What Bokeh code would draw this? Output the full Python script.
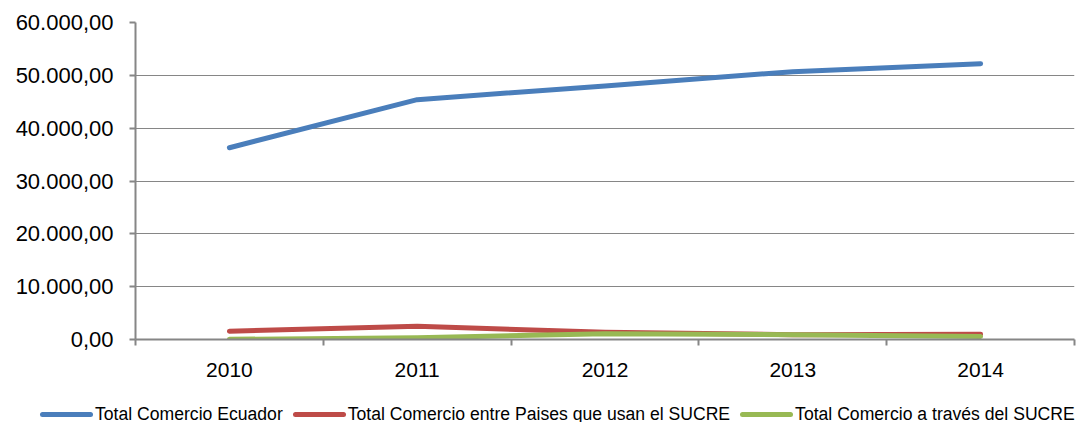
from bokeh.plotting import figure
from bokeh.models import FixedTicker, Range1d, Div
from bokeh.layouts import column
from bokeh.embed import file_html
from bokeh.resources import INLINE

years = ["2010", "2011", "2012", "2013", "2014"]
ecuador = [36300, 45400, 48000, 50700, 52200]
paises_sucre = [1570, 2500, 1380, 900, 1000]
via_sucre = [30, 320, 1080, 900, 570]
y_ticks = [0, 10000, 20000, 30000, 40000, 50000, 60000]
y_labels = ["0,00", "10.000,00", "20.000,00", "30.000,00", "40.000,00", "50.000,00", "60.000,00"]
series_names = ["Total Comercio Ecuador", "Total Comercio entre Paises que usan el SUCRE",
                "Total Comercio a través del SUCRE"]
colors = ["#4A7EBB", "#BE4B48", "#98B954"]

FONT = "Liberation Sans"
GRAY = "#868686"

xs = [i + 0.5 for i in range(len(years))]

p = figure(width=1079, height=395, output_backend="svg", toolbar_location=None,
           x_range=Range1d(0, len(years)), y_range=Range1d(0, 60000),
           min_border_left=135, min_border_right=5, min_border_top=22, min_border_bottom=56)
p.outline_line_color = None
p.background_fill_color = "white"

for vals, c in zip([ecuador, paises_sucre, via_sucre], colors):
    p.line(xs, vals, line_color=c, line_width=5, line_cap="round", line_join="round")

# x axis
p.xaxis.ticker = FixedTicker(ticks=xs, minor_ticks=list(range(len(years) + 1)))
p.xaxis.major_label_overrides = {x: y for x, y in zip(xs, years)}
p.xaxis.major_tick_line_color = None
p.xaxis.minor_tick_line_color = GRAY
p.xaxis.minor_tick_line_width = 2
p.xaxis.minor_tick_in = 0
p.xaxis.minor_tick_out = 6
p.xaxis.axis_line_color = GRAY
p.xaxis.axis_line_width = 2
p.xaxis.major_label_text_font = FONT
p.xaxis.major_label_text_font_size = "21px"
p.xaxis.major_label_text_color = "#000000"
p.xaxis.major_label_standoff = 17

# y axis
p.yaxis.ticker = FixedTicker(ticks=y_ticks)
p.yaxis.major_label_overrides = {t: l for t, l in zip(y_ticks, y_labels)}
p.yaxis.minor_tick_line_color = None
p.yaxis.major_tick_line_color = GRAY
p.yaxis.major_tick_line_width = 2
p.yaxis.major_tick_in = 0
p.yaxis.major_tick_out = 6
p.yaxis.axis_line_color = GRAY
p.yaxis.axis_line_width = 2
p.yaxis.major_label_text_font = FONT
p.yaxis.major_label_text_font_size = "22px"
p.yaxis.major_label_text_color = "#000000"
p.yaxis.major_label_standoff = 16

p.xgrid.grid_line_color = None
p.ygrid.ticker = FixedTicker(ticks=y_ticks)
p.ygrid.grid_line_color = GRAY
p.ygrid.grid_line_width = 1

# legend strip below the chart
items_html = "".join(
    f'<span style="display:inline-block;flex:none;width:53px;height:5px;border-radius:3px;'
    f'background:{c};margin-left:{0 if i == 0 else 10}px;margin-right:2px;"></span>'
    f'<span style="white-space:nowrap;flex:none;">{n}</span>'
    for i, (n, c) in enumerate(zip(series_names, colors))
)
legend_div = Div(
    text=f'<div style="display:flex;align-items:center;height:27px;padding-left:40px;'
         f'padding-top:12px;box-sizing:border-box;font-family:\'{FONT}\';font-size:17.6px;'
         f'color:#000;white-space:nowrap;">{items_html}</div>',
    width=1079, height=27, margin=(0, 0, 0, 0))

open("out.html", "w").write(file_html(column(p, legend_div, spacing=0), INLINE))
